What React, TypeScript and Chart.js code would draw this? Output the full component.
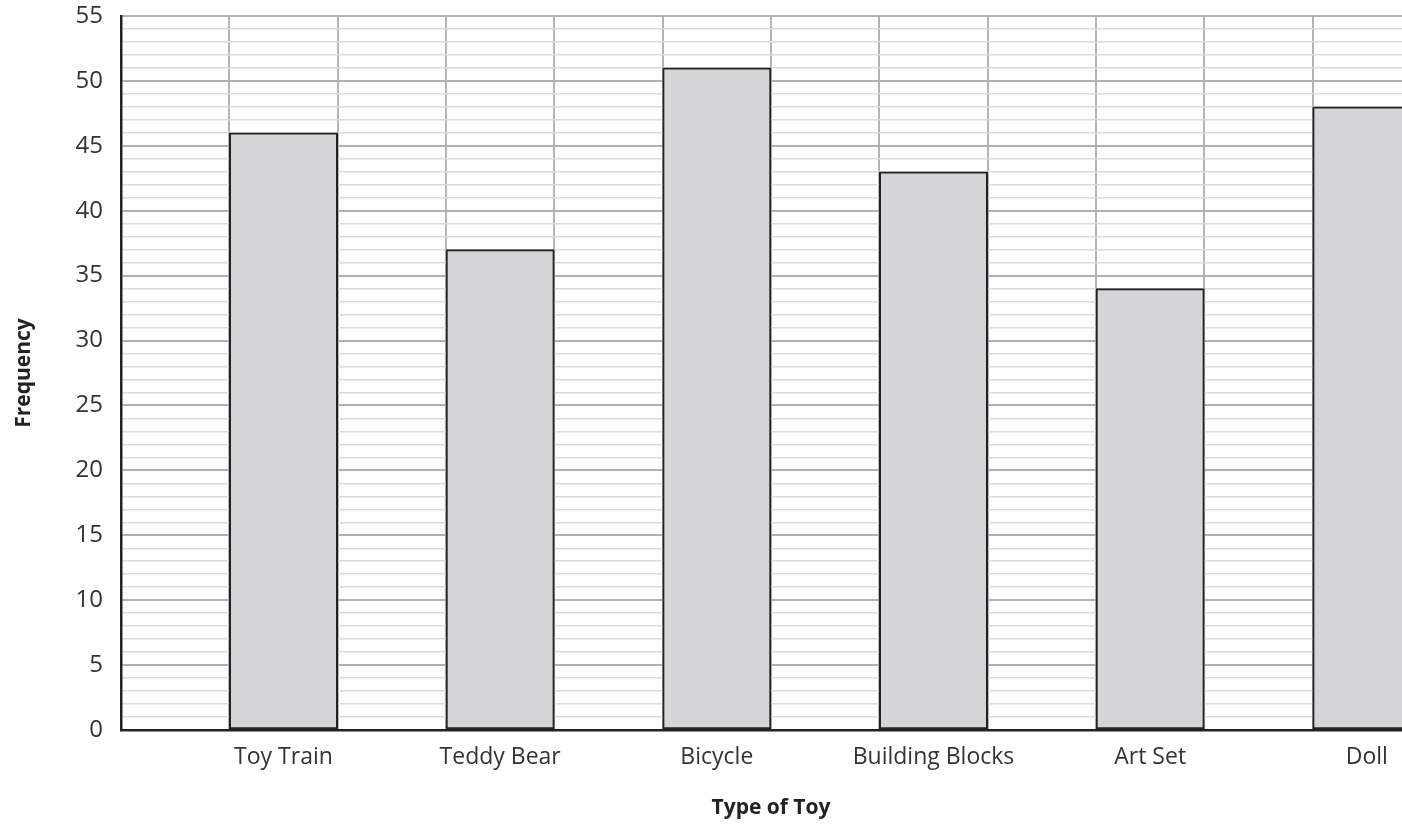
import React, { useEffect, useRef } from "react";
import { Chart, registerables } from "chart.js";

Chart.register(...registerables);

const categories = ["Toy Train", "Teddy Bear", "Bicycle", "Building Blocks", "Art Set", "Doll"];
const frequencies = [46, 37, 51, 43, 34, 48];
const yMin = 0;
const yMax = 55;
const yStep = 1;
const yLabelEvery = 5;

// Each category sits in every second slot, with an empty slot before it.
const slotLabels: string[] = [];
const slotValues: (number | null)[] = [];
categories.forEach((c, i) => {
  slotLabels.push("");
  slotValues.push(null);
  slotLabels.push(c);
  slotValues.push(frequencies[i]);
});

const FONT = "'Open Sans', 'Noto Sans', sans-serif";

export default function App() {
  const ref = useRef<HTMLCanvasElement | null>(null);
  useEffect(() => {
    if (!ref.current) return;
    const chart = new Chart(ref.current, {
      type: "bar",
      data: {
        labels: slotLabels,
        datasets: [
          {
            data: slotValues,
            backgroundColor: "#d4d5d7",
            borderColor: "#222222",
            borderWidth: 2,
            borderSkipped: false,
            barPercentage: 1,
            categoryPercentage: 1,
          },
        ],
      },
      options: {
        responsive: false,
        animation: false,
        devicePixelRatio: 1,
        layout: { padding: { top: 16, right: 0, bottom: 0, left: 0 } },
        plugins: { legend: { display: false }, tooltip: { enabled: false } },
        scales: {
          x: {
            offset: true,
            grid: { offset: true, color: "#b4b4b8", lineWidth: 2, drawTicks: false },
            border: { color: "#222222", width: 2.5 },
            ticks: {
              autoSkip: false,
              maxRotation: 0,
              padding: 14,
              color: "#333333",
              font: { family: FONT, size: 23 },
            },
            title: {
              display: true,
              text: "Type of Toy",
              color: "#222222",
              font: { family: FONT, size: 21, weight: "bold" },
              padding: { top: 0, bottom: 3 },
            },
            afterFit: (s: any) => {
              s.height = 94;
              s.paddingLeft = 0;
              s.paddingRight = 0;
            },
          },
          y: {
            min: yMin,
            max: yMax,
            grid: {
              color: (ctx: any) => (ctx.tick && ctx.tick.value % yLabelEvery === 0 ? "#b0b0b2" : "#dcdcdc"),
              lineWidth: (ctx: any) => (ctx.tick && ctx.tick.value % yLabelEvery === 0 ? 2 : 1.5),
              drawTicks: false,
            },
            border: { color: "#222222", width: 2.5 },
            ticks: {
              stepSize: yStep,
              autoSkip: false,
              padding: 18,
              color: "#333333",
              font: { family: FONT, size: 24 },
              callback: (v: any) => (Number(v) % yLabelEvery === 0 ? String(v) : ""),
            },
            title: {
              display: true,
              text: "Frequency",
              color: "#222222",
              font: { family: FONT, size: 21, weight: "bold" },
              padding: { top: 11, bottom: 0 },
            },
            afterFit: (s: any) => {
              s.width = 121;
              s.paddingTop = 0;
              s.paddingBottom = 0;
            },
          },
        },
      },
    });
    return () => chart.destroy();
  }, []);
  return (
    <div
      style={{
        position: "fixed",
        left: 0,
        top: 0,
        width: 1402,
        height: 824,
        overflow: "hidden",
        background: "#ffffff",
      }}
    >
      <canvas ref={ref} width={1421} height={824} style={{ display: "block", width: 1421, height: 824 }} />
    </div>
  );
}
